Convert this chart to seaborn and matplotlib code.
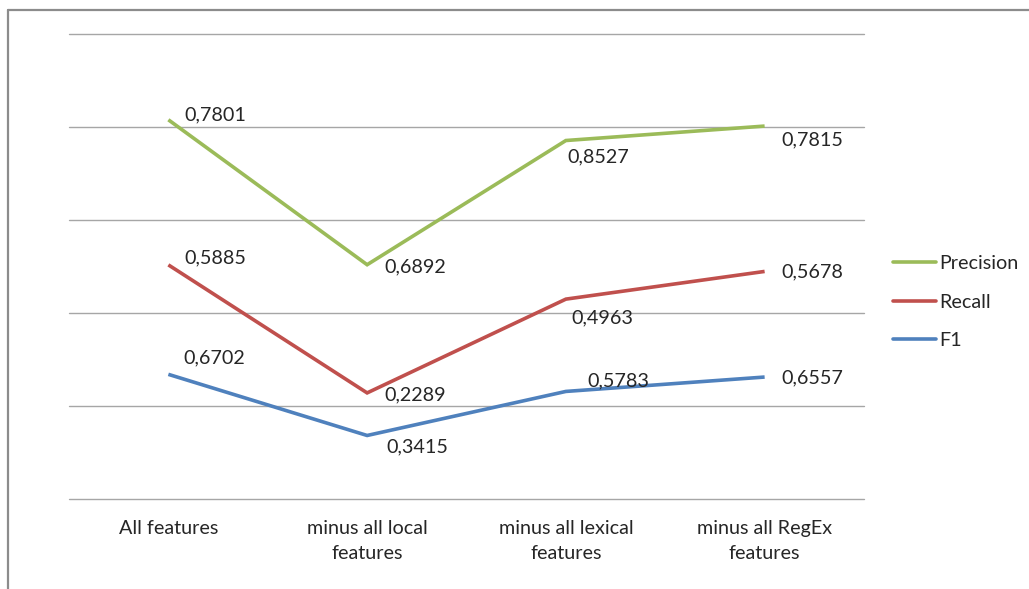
import textwrap

import matplotlib
matplotlib.use("Agg")
import matplotlib.pyplot as plt
from matplotlib.lines import Line2D
import pandas as pd
import seaborn as sns

# Feature-ablation scores per configuration
categories = ["All features", "minus all local features",
              "minus all lexical features", "minus all RegEx features"]
f1 = [0.6702, 0.3415, 0.5783, 0.6557]
recall = [0.5885, 0.2289, 0.4963, 0.5678]
precision = [0.7801, 0.6892, 0.8527, 0.7815]

series_names = ["Precision", "Recall", "F1"]
colors = {"Precision": "#9BBB59", "Recall": "#C0504D", "F1": "#4F81BD"}

# Label placement relative to each point, in pixels (dx right, dy down)
label_offsets = {
    "Precision": [(16, -5), (17, 2), (2, 16), (17, 14)],
    "Recall": [(16, -7), (17, 2), (6, 19), (17, 0)],
    "F1": [(15, -16), (19, 11), (22, -11), (17, 1)],
}

# Stacked line layout: F1 at the bottom, then Recall, then Precision
values = {"F1": f1, "Recall": recall, "Precision": precision}
stack_order = ["F1", "Recall", "Precision"]
rows = []
running = [0.0] * len(categories)
for name in stack_order:
    running = [r + v for r, v in zip(running, values[name])]
    for i, (cat, v, top) in enumerate(zip(categories, values[name], running)):
        rows.append({"pos": i, "category": cat, "series": name,
                     "value": v, "stacked": top})
df = pd.DataFrame(rows)

sns.set_theme(style="white")
plt.rcParams["font.family"] = ["Lato", "DejaVu Sans"]
text_color = "#262626"
fs = 14.2

fig = plt.figure(figsize=(10.29, 5.89), dpi=100)
ax = fig.add_axes([69 / 1029, 90 / 589, 795 / 1029, 465 / 589])

sns.lineplot(data=df, x="pos", y="stacked", hue="series",
             hue_order=series_names, palette=colors, linewidth=2.6,
             ax=ax, legend=False, sort=False, estimator=None)
for line in ax.get_lines():
    line.set_solid_joinstyle("miter")
    line.set_solid_capstyle("butt")

for name in series_names:
    sub = df[df["series"] == name].sort_values("pos")
    for (_, r), (dx, dy) in zip(sub.iterrows(), label_offsets[name]):
        ax.annotate(f"{r['value']:.4f}".replace(".", ","),
                    xy=(r["pos"], r["stacked"]), xytext=(dx, -dy),
                    textcoords="offset pixels", ha="left", va="center",
                    fontsize=fs, color=text_color)

ax.set_xlim(-0.5, 3.5)
ax.set_ylim(0, 2.5)
ax.set_yticks([0, 0.5, 1.0, 1.5, 2.0, 2.5])
ax.set_yticklabels([])
ax.yaxis.grid(True, color="#a6a6a6", linewidth=1.0)
for gl in ax.get_ygridlines():
    gl.set_clip_on(False)
ax.xaxis.grid(False)
ax.set_xticks(range(len(categories)))
ax.set_xticklabels([textwrap.fill(c, 17) for c in categories],
                   fontsize=fs, color=text_color, linespacing=1.55)
ax.tick_params(axis="x", length=0, pad=15)
ax.tick_params(axis="y", length=0)
ax.set_xlabel("")
ax.set_ylabel("")
for s in ax.spines.values():
    s.set_visible(False)

handles = [Line2D([], [], color=colors[n], linewidth=2.6) for n in series_names]
fig.legend(handles, series_names, loc="center left",
           bbox_to_anchor=(893 / 1029, 1 - 302 / 589), frameon=False,
           fontsize=fs, handlelength=2.2, handletextpad=0.15,
           labelspacing=1.1, borderpad=0, borderaxespad=0,
           labelcolor=text_color)

# Chart frame running off the right and bottom edges
frame_kw = dict(color="#8c8c8c", linewidth=1.6, transform=fig.transFigure)
fig.add_artist(Line2D([7.5 / 1029, 7.5 / 1029], [0, 1 - 10 / 589], **frame_kw))
fig.add_artist(Line2D([7.5 / 1029, 1], [1 - 10 / 589, 1 - 10 / 589], **frame_kw))

fig.savefig("out.png", dpi=100, facecolor="white")
